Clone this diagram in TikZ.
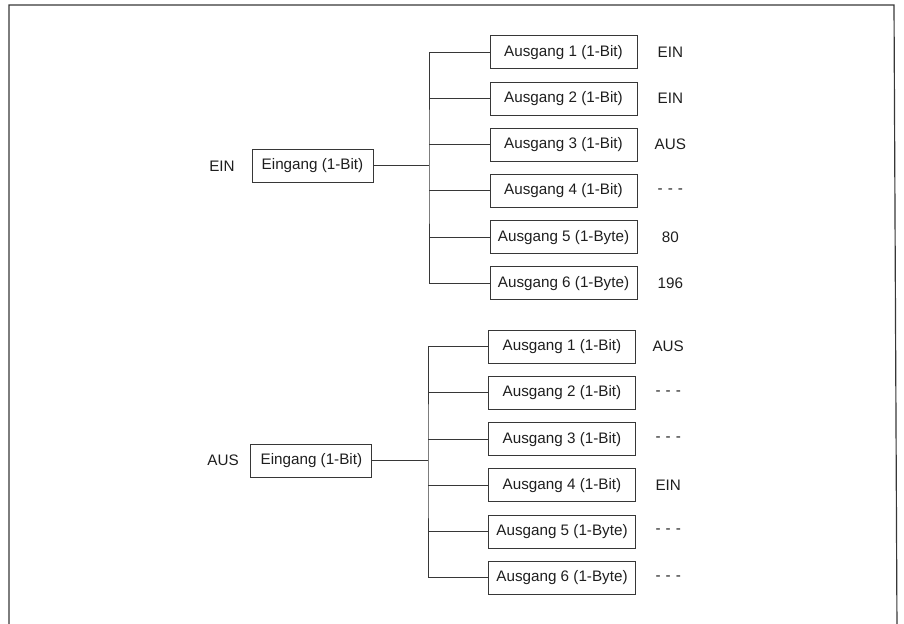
\documentclass[tikz,border=0pt]{standalone}
\usepackage{fontspec}
\setmainfont{Liberation Sans}
\usepackage{tikz}
\usetikzlibrary{positioning}
\definecolor{myline}{RGB}{55,55,55}
\definecolor{mytext}{RGB}{30,30,30}
\tikzset{
  inblock/.style={rectangle, draw=myline, minimum width=36.3mm,
    minimum height=9.9mm, inner sep=0pt, line width=0.8pt,
    text=mytext, font=\fontsize{13}{15}\selectfont},
  outblock/.style={inblock, minimum width=44.1mm},
  stlabel/.style={text=mytext, inner sep=0pt, font=\fontsize{13}{15}\selectfont},
  vallabel/.style={stlabel, text width=12mm, align=center},
  line/.style={line width=0.8pt, color=myline},
  frame/.style={line width=1pt, color=myline}
}

\begin{document}
\begin{tikzpicture}[x=0.3mm, y=-0.3mm, node distance=3.68mm]
  \useasboundingbox (0,0) rectangle (904,624);
  \draw[frame] (9,632) -- (9,5) -- (894,5) -- (897,632);

  % Eingang EIN
  \node[inblock] (inA) at (312.5,165.5) {Eingang (1-Bit)};
  \node[stlabel] (stA) at (222,166) {EIN};
  \coordinate (busA) at (429,165.5);
  \node[outblock] (outA1) at (563.5,52.3) {Ausgang 1 (1-Bit)};
  \node[outblock, below=of outA1] (outA2) {Ausgang 2 (1-Bit)};
  \node[outblock, below=of outA2] (outA3) {Ausgang 3 (1-Bit)};
  \node[outblock, below=of outA3] (outA4) {Ausgang 4 (1-Bit)};
  \node[outblock, below=of outA4] (outA5) {Ausgang 5 (1-Byte)};
  \node[outblock, below=of outA5] (outA6) {Ausgang 6 (1-Byte)};
  \node[vallabel, right=3.8mm of outA1] (valA1) {EIN};
  \node[vallabel, right=3.8mm of outA2] (valA2) {EIN};
  \node[vallabel, right=3.8mm of outA3] (valA3) {AUS};
  \node[vallabel, right=3.8mm of outA4] (valA4) {- - -};
  \node[vallabel, right=3.8mm of outA5] (valA5) {80};
  \node[vallabel, right=3.8mm of outA6] (valA6) {196};
  \draw[line] (inA) -- (busA);
  \draw[line] (outA1.west) -| (busA) |- (outA6.west);
  \draw[line] (busA |- outA2) -- (outA2.west);
  \draw[line] (busA |- outA3) -- (outA3.west);
  \draw[line] (busA |- outA4) -- (outA4.west);
  \draw[line] (busA |- outA5) -- (outA5.west);

  % Eingang AUS
  \node[inblock] (inB) at (311.4,460.5) {Eingang (1-Bit)};
  \node[stlabel] (stB) at (223,460.7) {AUS};
  \coordinate (busB) at (428,460.5);
  \node[outblock] (outB1) at (562,346.7) {Ausgang 1 (1-Bit)};
  \node[outblock, below=of outB1] (outB2) {Ausgang 2 (1-Bit)};
  \node[outblock, below=of outB2] (outB3) {Ausgang 3 (1-Bit)};
  \node[outblock, below=of outB3] (outB4) {Ausgang 4 (1-Bit)};
  \node[outblock, below=of outB4] (outB5) {Ausgang 5 (1-Byte)};
  \node[outblock, below=of outB5] (outB6) {Ausgang 6 (1-Byte)};
  \node[vallabel, right=3.6mm of outB1] (valB1) {AUS};
  \node[vallabel, right=3.6mm of outB2] (valB2) {- - -};
  \node[vallabel, right=3.6mm of outB3] (valB3) {- - -};
  \node[vallabel, right=3.6mm of outB4] (valB4) {EIN};
  \node[vallabel, right=3.6mm of outB5] (valB5) {- - -};
  \node[vallabel, right=3.6mm of outB6] (valB6) {- - -};
  \draw[line] (inB) -- (busB);
  \draw[line] (outB1.west) -| (busB) |- (outB6.west);
  \draw[line] (busB |- outB2) -- (outB2.west);
  \draw[line] (busB |- outB3) -- (outB3.west);
  \draw[line] (busB |- outB4) -- (outB4.west);
  \draw[line] (busB |- outB5) -- (outB5.west);
\end{tikzpicture}
\end{document}
